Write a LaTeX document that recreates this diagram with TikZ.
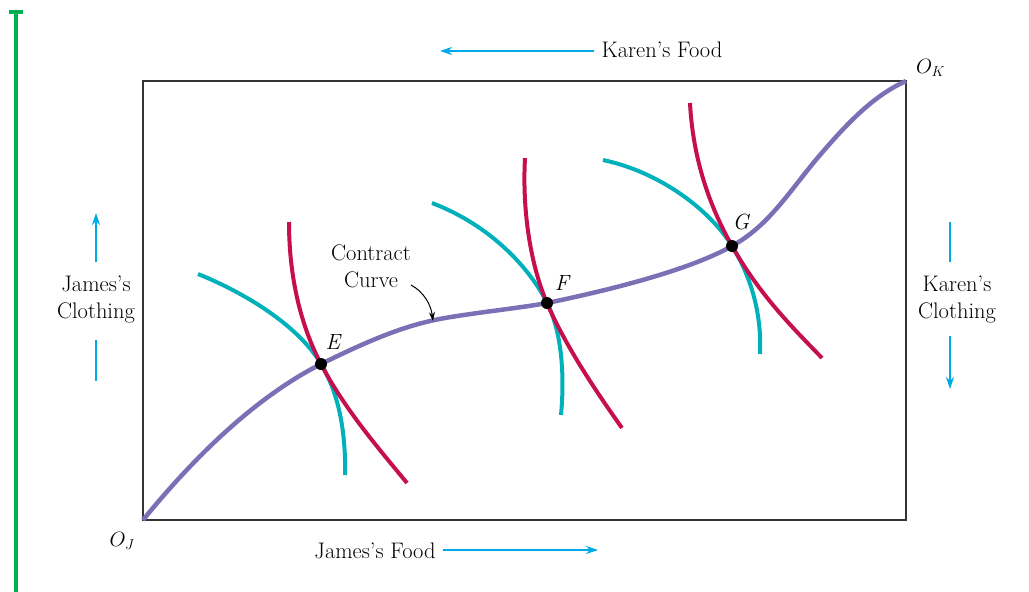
\documentclass[tikz,border=0pt]{standalone}
\usetikzlibrary{arrows.meta}
\definecolor{tealc}{RGB}{0,176,186}
\definecolor{redc}{RGB}{198,16,78}
\definecolor{purc}{RGB}{122,112,182}
\definecolor{cyanc}{RGB}{0,170,230}
\definecolor{greenc}{RGB}{0,176,80}
\begin{document}
\begin{tikzpicture}[x=1pt,y=-1pt,
  lbl/.style={font=\fontsize{22.5}{27}\selectfont, inner sep=0pt, align=center},
  ptlbl/.style={font=\fontsize{22}{27}\selectfont\itshape, inner sep=0pt},
  tealcurve/.style={draw=tealc, line width=4pt},
  redcurve/.style={draw=redc, line width=4pt},
  contract/.style={draw=purc, line width=4.5pt},
  dirarrow/.style={draw=cyanc, line width=1.5pt, -{Stealth[length=12pt,width=8pt]}},
  dirline/.style={draw=cyanc, line width=1.5pt},
  dot/.style={circle, fill=black, inner sep=0pt, minimum size=12pt},
  boxline/.style={draw=black!80, line width=1.2pt},
  greenline/.style={draw=greenc, line width=3.5pt}
]
\useasboundingbox (0,0) rectangle (1029,592);

% green axis
\coordinate (gtop) at (16,12);
\coordinate (gbot) at (16,592);
\coordinate (gtl) at (9,12);
\coordinate (gtr) at (23,12);
\draw[greenline] (gtop) -- (gbot);
\draw[greenline] (gtl) -- (gtr);

% box
\coordinate (OJ) at (143,520);
\coordinate (OK) at (906,81);
\draw[boxline] (OJ) rectangle (OK);

% key points
\coordinate (E) at (321,364);
\coordinate (F) at (547,303);
\coordinate (G) at (732,246);

% teal indifference curves
\draw[tealcurve] (198,274) .. controls (250,295) and (300,328) .. (E)
  .. controls (338,392) and (346,430) .. (345,475);
\draw[tealcurve] (432,203) .. controls (490,225) and (530,268) .. (F)
  .. controls (561,330) and (565,372) .. (561,415);
\draw[tealcurve] (603,160) .. controls (660,172) and (710,210) .. (G)
  .. controls (750,275) and (762,312) .. (760,354);

% red indifference curves
\draw[redcurve] (289,222) .. controls (289,280) and (302,328) .. (E)
  .. controls (345,410) and (380,450) .. (407,483);
\draw[redcurve] (525,158) .. controls (522,212) and (531,266) .. (F)
  .. controls (565,345) and (595,390) .. (622,428);
\draw[redcurve] (690,103) .. controls (693,160) and (710,207) .. (G)
  .. controls (760,295) and (790,325) .. (822,358);

% contract curve
\coordinate (C1) at (445,318);
\coordinate (C2) at (820,155);
\draw[contract] (OJ) .. controls (200,450) and (260,395) .. (E)
  .. controls (370,340) and (405,325) .. (C1)
  .. controls (480,312) and (520,308) .. (F)
  .. controls (610,290) and (690,270) .. (G)
  .. controls (770,225) and (790,190) .. (C2)
  .. controls (850,120) and (875,95) .. (OK);

% dots
\node[dot] (Ed) at (E) {};
\node[dot] (Fd) at (F) {};
\node[dot] (Gd) at (G) {};

% point labels
\node[ptlbl] (El) at (333,342) {E};
\node[ptlbl] (Fl) at (562,283) {F};
\node[ptlbl] (Gl) at (741,222) {G};

% contract curve label
\node[lbl] (ccl) at (371,266) {Contract\\Curve};
\coordinate (ccs) at (411,285);
\coordinate (cce) at (433,321);
\draw[line width=1pt, -{Stealth[length=9pt,width=6pt]}] (ccs) .. controls (424,292) and (431,305) .. (cce);

% origins
\node[ptlbl, anchor=west] (OKl) at (916,68) {$O_K$};
\node[ptlbl, anchor=east] (OJl) at (135,541) {$O_J$};

% Karen's food
\node[lbl] (kf) at (662,50) {Karen's Food};
\coordinate (kfe) at (440,51);
\draw[dirarrow] (kf.west) ++(-7,1) coordinate (kfs) -- (kfe);

% James's food
\node[lbl] (jf) at (375,551) {James's Food};
\coordinate (jfe) at (598,550);
\draw[dirarrow] (jf.east) ++(7,-1) coordinate (jfs) -- (jfe);

% James's clothing
\node[lbl] (jc) at (96,299) {James's\\Clothing};
\coordinate (jcu1) at (96,262);
\coordinate (jcu2) at (96,213);
\coordinate (jcl1) at (96,340);
\coordinate (jcl2) at (96,381);
\draw[dirarrow] (jcu1) -- (jcu2);
\draw[dirline] (jcl1) -- (jcl2);

% Karen's clothing
\node[lbl] (kc) at (957,299) {Karen's\\Clothing};
\coordinate (kcu1) at (950,222);
\coordinate (kcu2) at (950,262);
\coordinate (kcl1) at (950,336);
\coordinate (kcl2) at (950,389);
\draw[dirline] (kcu1) -- (kcu2);
\draw[dirarrow] (kcl1) -- (kcl2);
\end{tikzpicture}
\end{document}
